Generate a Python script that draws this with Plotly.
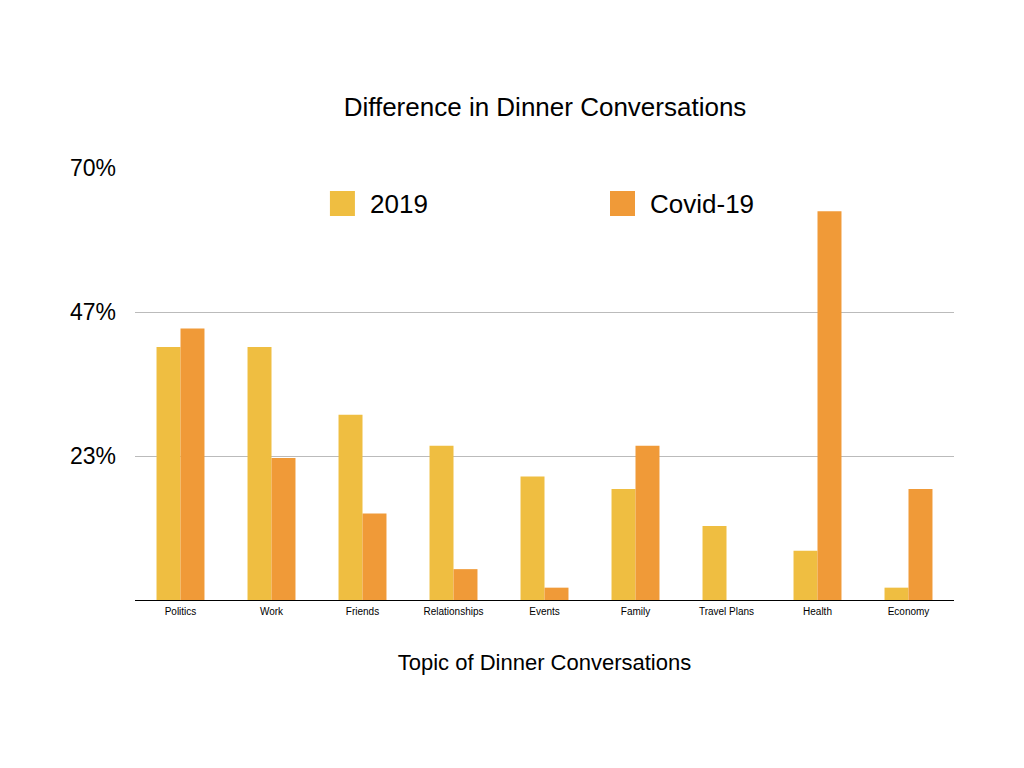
import plotly.graph_objects as go

categories = ["Politics", "Work", "Friends", "Relationships", "Events", "Family", "Travel Plans", "Health", "Economy"]
values_2019 = [41, 41, 30, 25, 20, 18, 12, 8, 2]
values_covid = [44, 23, 14, 5, 2, 25, 0, 63, 18]
series_names = ["2019", "Covid-19"]
colors = ["#EFBE41", "#F09A38"]
tick_vals = [0, 70 / 3, 140 / 3, 70]
tick_text = ["", "23%", "47%", "70%"]

FONT = "Liberation Sans, Arial, Helvetica, sans-serif"

fig = go.Figure()
for name, vals, col in zip(series_names, [values_2019, values_covid], colors):
    fig.add_trace(go.Bar(x=categories, y=vals, name=name, marker=dict(color=col, line=dict(width=0)),
                         showlegend=False))

# custom legend (large square swatches like the reference)
leg_x = [0.238, 0.58]
for i, (name, col) in enumerate(zip(series_names, colors)):
    fig.add_shape(type="rect", xref="paper", yref="paper",
                  x0=leg_x[i], x1=leg_x[i] + 25 / 819,
                  y0=(600 - 216) / 432, y1=(600 - 191) / 432,
                  fillcolor=col, line=dict(width=0))
    fig.add_annotation(xref="paper", yref="paper", x=leg_x[i] + 38 / 819, y=(600 - 204) / 432,
                       text=name, showarrow=False, xanchor="left", yanchor="middle",
                       font=dict(size=26, color="#000", family=FONT))

fig.update_layout(
    width=1024, height=768,
    margin=dict(l=127, r=78, t=160, b=176),
    paper_bgcolor="white", plot_bgcolor="white",
    barmode="group", bargap=0.473, bargroupgap=0,
    title=dict(text="Difference in Dinner Conversations", x=537 / 1024, xanchor="center",
               y=1 - 99 / 768, yanchor="middle",
               font=dict(size=26, color="#000", family=FONT)),
    font=dict(family=FONT, color="#000"),
    xaxis=dict(showline=True, linecolor="#000", linewidth=1.2, ticks="",
               tickfont=dict(size=10, color="#000"), ticklabelstandoff=2,
               title=dict(text="Topic of Dinner Conversations", font=dict(size=22, color="#000"), standoff=38)),
    yaxis=dict(range=[0, 70], tickvals=tick_vals, ticktext=tick_text, showgrid=True,
               gridcolor="#BBBBBB", gridwidth=1, zeroline=False, showline=False,
               tickfont=dict(size=23, color="#000"), ticklabelstandoff=18),
)

fig.write_html("out.html")
